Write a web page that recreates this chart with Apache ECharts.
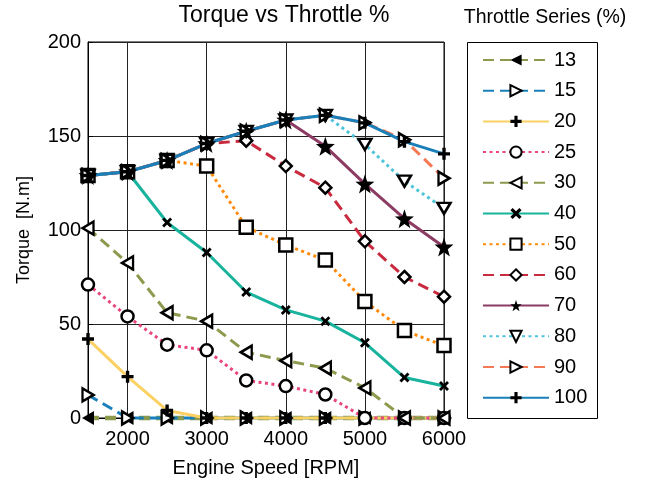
<!DOCTYPE html>
<html>
<head>
<meta charset="utf-8">
<script src="https://cdn.jsdelivr.net/npm/echarts@6/dist/echarts.min.js"></script>
<style>
  html, body { margin: 0; padding: 0; background: #fff; }
  #chart { width: 648px; height: 483px; }
</style>
</head>
<body>
<div id="chart"></div>
<script>
// Engine speed samples (RPM)
const rpm = [1500, 2000, 2500, 3000, 3500, 4000, 4500, 5000, 5500, 6000];

// Torque (N.m) per throttle opening
const torque13  = [0, 0, 0, 0, 0, 0, 0, 0, 0, 0];
const torque15  = [12.3, 0, 0, 0, 0, 0, 0, 0, 0, 0];
const torque20  = [42, 22, 4, 0, 0, 0, 0, 0, 0, 0];
const torque25  = [71, 54, 39, 36, 20, 17, 12.5, 0, 0, 0];
const torque30  = [101, 82.5, 56, 51.5, 35, 30.5, 26.5, 16, 0, 0];
const torque40  = [129, 131, 104, 88, 67, 57.5, 51.5, 40, 21.5, 17];
const torque50  = [129, 131, 137, 134, 101.5, 92, 84, 62, 46.5, 38.5];
const torque60  = [129, 131, 137, 146, 147.5, 134, 122.5, 94, 75, 64.5];
const torque70  = [129, 131, 137, 146, 152.5, 158.5, 144.5, 124.5, 106, 91];
const torque80  = [129, 131, 137, 146, 152.5, 158.5, 161, 145.5, 126, 111.5];
const torque90  = [129, 131, 137, 146, 152.5, 158.5, 161, 157, 148, 127.5];
const torque100 = [129, 131, 137, 146, 152.5, 158.5, 161, 157, 147, 140.5];

const throttleNames = ['13', '15', '20', '25', '30', '40', '50', '60', '70', '80', '90', '100'];

const FONT = '"Liberation Sans", Arial, Helvetica, sans-serif';

// Marker shapes
const SYM = {
  triLeft:  'path://M0,5L9,0L9,10Z',
  triRight: 'path://M9,5L0,0L0,10Z',
  triDown:  'path://M0,0L10,0L5,9Z',
  plus:     'path://M3.6,0H6.4V3.6H10V6.4H6.4V10H3.6V6.4H0V3.6H3.6Z',
  cross:    'path://M0,2L2,0L5,3L8,0L10,2L7,5L10,8L8,10L5,7L2,10L0,8L3,5Z',
  star:     'path://M5,0L6.2,3.5L10,3.6L7,5.9L8.1,9.5L5,7.4L1.9,9.5L3,5.9L0,3.6L3.8,3.5Z',
  square:   'rect',
  circle:   'circle',
  diamond:  'diamond'
};

const DASH = [11, 6];
const DOT = [3, 3.5];

function lineSeries(name, values, color, type, width, symbol, size, filled) {
  return {
    name: name,
    type: 'line',
    data: rpm.map((x, i) => [x, values[i]]),
    clip: false,
    symbol: symbol,
    symbolSize: size,
    showAllSymbol: true,
    lineStyle: { color: color, width: width, type: type },
    itemStyle: filled
      ? { color: '#000', borderColor: '#000', borderWidth: 0 }
      : { color: '#fff', borderColor: '#000', borderWidth: 2.5 },
    emphasis: { disabled: true }
  };
}

const series = [
  lineSeries('13',  torque13,  '#8b9a4c', DASH, 4.5, SYM.triLeft,  [12, 14], true),
  lineSeries('15',  torque15,  '#1a80bb', DASH, 3,   SYM.triRight, [11, 13], false),
  lineSeries('20',  torque20,  '#fcd164', 'solid', 3, SYM.plus,    12, true),
  lineSeries('25',  torque25,  '#e8467c', DOT, 3,    SYM.circle,   12, false),
  lineSeries('30',  torque30,  '#8b9a4c', DASH, 3,   SYM.triLeft,  [11, 13], false),
  lineSeries('40',  torque40,  '#17b39c', 'solid', 3, SYM.cross,   10, true),
  lineSeries('50',  torque50,  '#ff8a0a', DOT, 3,    SYM.square,   13, false),
  lineSeries('60',  torque60,  '#c92a3e', DASH, 3,   SYM.diamond,  12, false),
  lineSeries('70',  torque70,  '#8c3c63', 'solid', 3, SYM.star,    19, true),
  lineSeries('80',  torque80,  '#4dc4da', DOT, 3,    SYM.triDown,  [13, 11], false),
  lineSeries('90',  torque90,  '#f47a55', DASH, 3,   SYM.triRight, [11, 13], false),
  lineSeries('100', torque100, '#1a7fb8', 'solid', 3, SYM.plus,    12, true)
];

const chart = echarts.init(document.getElementById('chart'), null, { renderer: 'canvas' });

chart.setOption({
  animation: false,
  backgroundColor: '#fff',
  textStyle: { fontFamily: FONT, color: '#000' },
  grid: {
    left: 88, right: 204, top: 42, bottom: 63,
    show: true, borderColor: '#000', borderWidth: 1, backgroundColor: 'transparent'
  },
  xAxis: {
    type: 'value',
    min: 1500,
    max: 6000,
    splitNumber: 5,
    name: 'Engine Speed [RPM]',
    nameLocation: 'middle',
    nameGap: 40,
    nameTextStyle: { fontFamily: FONT, fontSize: 20, color: '#000' },
    axisLine: { show: true, onZero: false, lineStyle: { color: '#000', width: 1 } },
    axisTick: { show: true, inside: true, length: 5, lineStyle: { color: '#000' } },
    axisLabel: {
      fontFamily: FONT, fontSize: 20, color: '#000', margin: 11,
      showMinLabel: false,
      formatter: v => (v % 1000 === 0 ? String(v) : '')
    },
    splitLine: { show: true, lineStyle: { color: '#222', width: 1 } }
  },
  yAxis: {
    type: 'value',
    min: 0,
    max: 200,
    interval: 50,
    name: 'Torque  [N.m]',
    nameLocation: 'middle',
    nameGap: 55,
    nameTextStyle: { fontFamily: FONT, fontSize: 18, color: '#000' },
    axisLine: { show: true, lineStyle: { color: '#000', width: 1 } },
    axisTick: { show: true, inside: true, length: 5, lineStyle: { color: '#000' } },
    axisLabel: { fontFamily: FONT, fontSize: 20, color: '#000', margin: 7 },
    splitLine: { show: true, lineStyle: { color: '#222', width: 1 } }
  },
  legend: {
    data: throttleNames,
    orient: 'vertical',
    left: 482,
    top: 50,
    padding: 0,
    itemWidth: 66,
    itemHeight: 14,
    itemGap: 10.7,
    selectedMode: false,
    textStyle: { fontFamily: FONT, fontSize: 20, color: '#000', lineHeight: 20 }
  },
  graphic: [
    {
      type: 'text',
      style: {
        text: 'Torque vs Throttle %',
        x: 284, y: 16,
        align: 'center', verticalAlign: 'middle',
        font: '23px ' + FONT,
        fill: '#000'
      },
      z: 10
    },
    {
      type: 'text',
      style: {
        text: 'Throttle Series (%)',
        x: 545, y: 18,
        align: 'center', verticalAlign: 'middle',
        font: '19.5px ' + FONT,
        fill: '#000'
      },
      z: 10
    },
    {
      type: 'rect',
      shape: { x: 467.5, y: 42.5, width: 130, height: 376 },
      style: { fill: 'none', stroke: '#000', lineWidth: 1 },
      z: 0
    }
  ],
  series: series
});
</script>
</body>
</html>
